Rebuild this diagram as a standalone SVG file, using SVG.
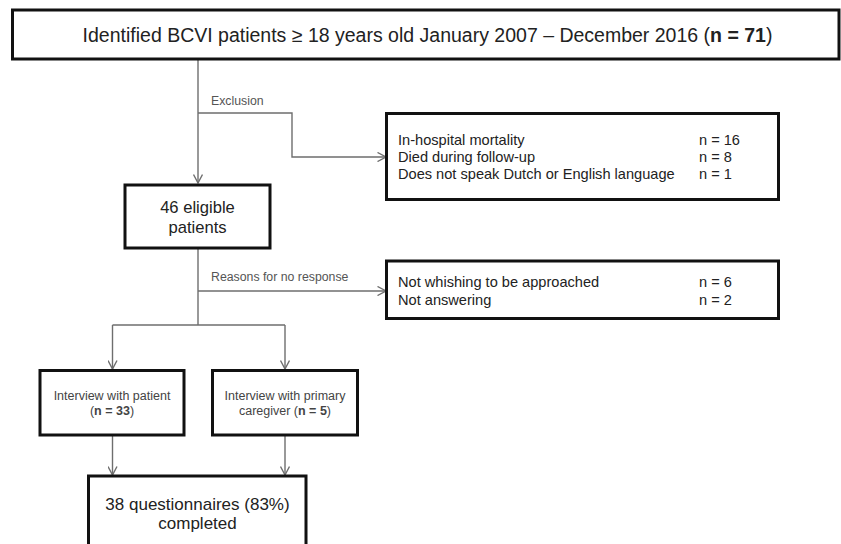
<svg xmlns="http://www.w3.org/2000/svg" width="841" height="544" viewBox="0 0 841 544">
<style>
.box{fill:#fff;stroke:#111;stroke-width:3}
.c{fill:none;stroke:#6e6e6e;stroke-width:1.4}
.t{font-family:"Liberation Sans",Arial,sans-serif;fill:#222}
.lbl{font-family:"Liberation Sans",Arial,sans-serif;fill:#555;font-size:12.3px}
.ib{font-family:"Liberation Sans",Arial,sans-serif;fill:#444;font-size:12.5px;text-anchor:middle}
</style>
<defs>
<marker id="ah" viewBox="0 0 10 10" refX="9.5" refY="5" markerWidth="10" markerHeight="10" markerUnits="userSpaceOnUse" orient="auto">
<path d="M1,0.5 L9.5,5 L1,9.5" fill="none" stroke="#6e6e6e" stroke-width="1.4"/>
</marker>
</defs>
<g id="connectors">
<path class="c" d="M198,59 V183" marker-end="url(#ah)"/>
<path class="c" d="M198,113 H292 V157 H386" marker-end="url(#ah)"/>
<path class="c" d="M198,248 V325"/>
<path class="c" d="M198,291 H386" marker-end="url(#ah)"/>
<path class="c" d="M112.5,325 H285"/>
<path class="c" d="M112.5,325 V369" marker-end="url(#ah)"/>
<path class="c" d="M285,325 V369" marker-end="url(#ah)"/>
<path class="c" d="M112.5,435 V475" marker-end="url(#ah)"/>
<path class="c" d="M285,435 V475" marker-end="url(#ah)"/>
<text class="lbl" x="211" y="105">Exclusion</text>
<text class="lbl" x="211" y="281">Reasons for no response</text>
</g>
<g id="top">
<rect class="box" x="12.5" y="10" width="826.5" height="49"/>
<text class="t" x="427.5" y="41.5" font-size="19.5" text-anchor="middle">Identified BCVI patients ≥ 18 years old January 2007 – December 2016 (<tspan font-weight="bold">n = 71</tspan>)</text>
</g>
<g id="exclusion">
<rect class="box" x="386.5" y="113.5" width="392" height="86"/>
<g class="t" font-size="14.6">
<text x="398" y="145">In-hospital mortality</text>
<text x="398" y="162">Died during follow-up</text>
<text x="398" y="179">Does not speak Dutch or English language</text>
<text x="699" y="145">n = 16</text>
<text x="699" y="162">n = 8</text>
<text x="699" y="179">n = 1</text>
</g>
</g>
<g id="eligible">
<rect class="box" x="125" y="185" width="145" height="63"/>
<text class="t" x="197.5" y="213" font-size="16.6" text-anchor="middle">46 eligible</text>
<text class="t" x="197.5" y="232.5" font-size="16.6" text-anchor="middle">patients</text>
</g>
<g id="noresponse">
<rect class="box" x="386.5" y="261" width="392" height="57.5"/>
<g class="t" font-size="14.6">
<text x="398" y="286.5">Not whishing to be approached</text>
<text x="398" y="305">Not answering</text>
<text x="699" y="286.5">n = 6</text>
<text x="699" y="305">n = 2</text>
</g>
</g>
<g id="patient">
<rect class="box" x="40" y="370.5" width="144" height="64.5"/>
<text class="ib" x="112" y="399.5">Interview with patient</text>
<text class="ib" x="112" y="415">(<tspan font-weight="bold">n = 33</tspan>)</text>
</g>
<g id="caregiver">
<rect class="box" x="212.5" y="370.5" width="145" height="64.5"/>
<text class="ib" x="285" y="399.5">Interview with primary</text>
<text class="ib" x="285" y="415">caregiver (<tspan font-weight="bold">n = 5</tspan>)</text>
</g>
<g id="completed">
<rect class="box" x="88.5" y="476" width="217.5" height="72"/>
<text class="t" x="197.5" y="509.5" font-size="17" text-anchor="middle">38 questionnaires (83%)</text>
<text class="t" x="197.5" y="529" font-size="17" text-anchor="middle">completed</text>
</g>
</svg>
